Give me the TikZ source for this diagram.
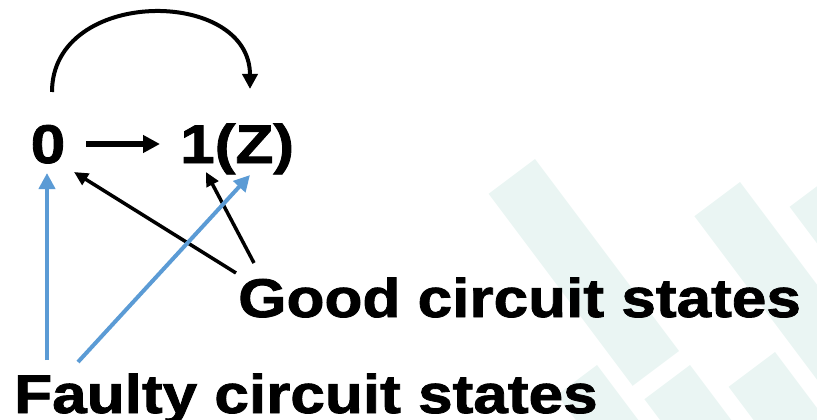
\documentclass[tikz,border=0pt]{standalone}
\usepackage{fontspec}
\usetikzlibrary{arrows.meta}
\newfontfamily\lblfont{Liberation Sans Bold}[FakeStretch=1.14,FakeBold=1.6]
\definecolor{stripe}{RGB}{234,245,243}
\definecolor{faultblue}{RGB}{91,155,213}
\tikzset{
  lbl/.style={font=\lblfont\fontsize{54.5}{60}\selectfont, inner sep=0pt, text=black},
  goodarrow/.style={draw=black, line width=3.5pt, -{Triangle[length=14pt,width=13pt]}},
  faultarrow/.style={draw=faultblue, line width=4pt, -{Triangle[length=16pt,width=16pt]}},
  mainarrow/.style={draw=black, line width=6pt, -{Triangle[length=17pt,width=17pt]}},
  looparrow/.style={draw=black, line width=4pt, -{Triangle[length=15pt,width=15pt]}},
  band/.style={fill=stripe, draw=none}
}
% one light diagonal band: top corner, width, length
\newcommand{\bandat}[4]{%
  \fill[band] (#1,#2) -- ++(-0.80*#3,0.60*#3) -- ++(0.60*#4,0.80*#4) -- ++(0.80*#3,-0.60*#3) -- cycle;}
\begin{document}
\begin{tikzpicture}[x=1pt,y=-1pt]
  \useasboundingbox (0,0) rectangle (817,420);
  \begin{scope}
    \clip (0,0) rectangle (817,420);
    % background bands
    \bandat{535}{159}{58}{240}
    \bandat{740}{182}{57}{260}
    \bandat{836}{172}{58}{260}
    \bandat{597}{365}{50}{200}
    \bandat{690}{365}{57}{200}
    \bandat{775}{352}{58}{200}
  \end{scope}

  % states and labels
  \node[lbl, anchor=base] (zero) at (48,163) {0};
  \node[lbl, anchor=base west] (one) at (180,163) {1(Z)};
  \node[lbl, anchor=base west] (good) at (238,317) {Good circuit states};
  \node[lbl, anchor=base west] (faulty) at (14,413) {Faulty circuit states};

  % connector ends
  \coordinate (h0) at (86,144);
  \coordinate (h1) at (160,144);
  \coordinate (c0) at (52,92);
  \coordinate (c1) at (250,89);
  \coordinate (g0) at (236,273);
  \coordinate (gz) at (74,172);
  \coordinate (g1) at (254,263);
  \coordinate (go) at (206,172);
  \coordinate (f0) at (47,360);
  \coordinate (fz) at (47,173);
  \coordinate (f1) at (78,362);
  \coordinate (fo) at (250,175);

  % transitions
  \draw[mainarrow] (h0) -- (h1);
  \draw[looparrow] (c0) .. controls (52,-13) and (250,-13) .. (c1);

  % good circuit pointers
  \draw[goodarrow] (g0) -- (gz);
  \draw[goodarrow] (g1) -- (go);

  % faulty circuit pointers
  \draw[faultarrow] (f0) -- (fz);
  \draw[faultarrow] (f1) -- (fo);
\end{tikzpicture}
\end{document}
